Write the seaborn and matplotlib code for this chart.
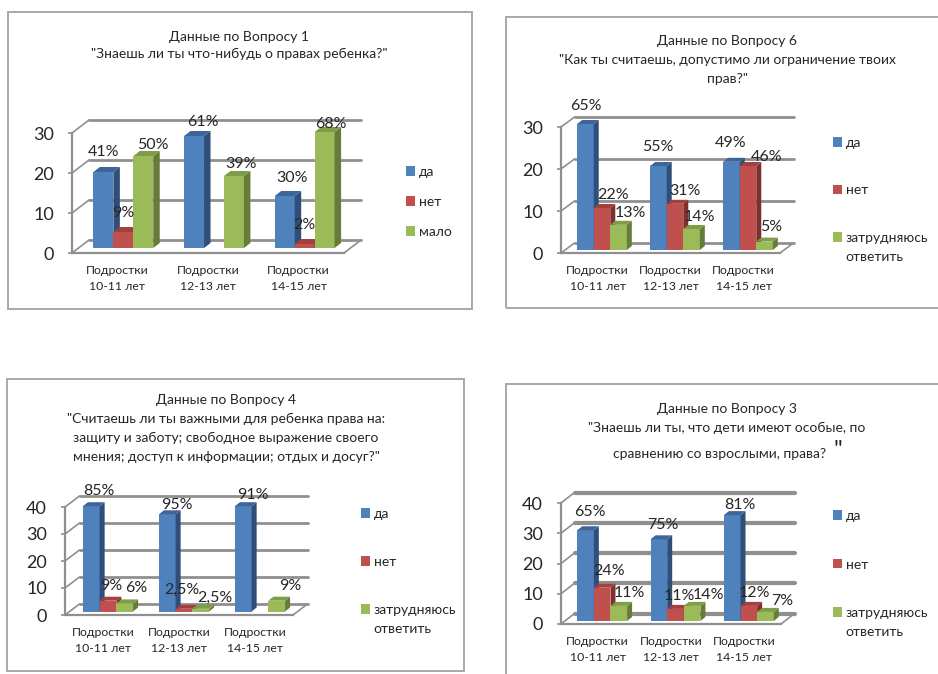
import pandas as pd
import matplotlib.pyplot as plt
import seaborn as sns
from matplotlib.patches import Polygon, Rectangle

W, H = 938, 674

# data
ages = ["Подростки\n10-11 лет", "Подростки\n12-13 лет", "Подростки\n14-15 лет"]
short_legend = ["да", "нет", "мало"]
long_legend = ["да", "нет", "затрудняюсь"]
legend_extra = "ответить"

q1_yes = [19, 28, 13]
q1_no = [4, 0, 1]
q1_other = [23, 18, 29]
q1_yes_txt = ["41%", "61%", "30%"]
q1_no_txt = ["9%", "", "2%"]
q1_other_txt = ["50%", "39%", "68%"]

q6_yes = [30, 20, 21]
q6_no = [10, 11, 20]
q6_other = [6, 5, 2]
q6_yes_txt = ["65%", "55%", "49%"]
q6_no_txt = ["22%", "31%", "46%"]
q6_other_txt = ["13%", "14%", "5%"]

q4_yes = [39, 36, 39]
q4_no = [4, 1, 0]
q4_other = [3, 1, 4]
q4_yes_txt = ["85%", "95%", "91%"]
q4_no_txt = ["9%", "2,5%", ""]
q4_other_txt = ["6%", "2,5%", "9%"]

q3_yes = [30, 27, 35]
q3_no = [11, 4, 5]
q3_other = [5, 5, 3]
q3_yes_txt = ["65%", "75%", "81%"]
q3_no_txt = ["24%", "11%", "12%"]
q3_other_txt = ["11%", "14%", "7%"]

q1_title = ["Данные по Вопросу 1", "\"Знаешь ли ты что-нибудь о правах ребенка?\""]
q6_title = ["Данные по Вопросу 6", "\"Как ты считаешь, допустимо ли ограничение твоих", "прав?\""]
q4_title = ["Данные по Вопросу 4", "\"Считаешь ли ты важными для ребенка права на:",
            "защиту и заботу; свободное выражение своего",
            "мнения; доступ к информации; отдых и досуг?\""]
q3_title = ["Данные по Вопросу 3", "\"Знаешь ли ты, что дети имеют особые, по"]
q3_title_last = "сравнению со взрослыми, права?"

# colours: front, side, top
faces = ["#4f81bd", "#c0504d", "#9bbb59"]
sides = ["#2f4f7a", "#7f2f2d", "#677c3a"]
tops = ["#3d659a", "#a33f3c", "#7f9c46"]
GREY = "#8f8f8f"
TXT = "#262626"

sns.set_theme(style="white")
plt.rcParams["font.family"] = ["Lato", "Open Sans", "DejaVu Sans"]

fig = plt.figure(figsize=(W / 100, H / 100), dpi=100, facecolor="white")


def fx(x):
    return x / W


def fy(y):
    return 1 - y / H


def panel(values, texts, legend_names, title, ymax, step, frame, box, depth, bar_depth,
          lift, shift, width, title_x, title_y, legend_xy, legend_sp, offsets, grid_lw):
    x0, y0, x1, y1 = frame
    fig.add_artist(Rectangle((fx(x0), fy(y1)), (x1 - x0) / W, (y1 - y0) / H, transform=fig.transFigure,
                             fill=False, ec="#a8a8a8", lw=1.4))
    for line, ty in zip(title, title_y):
        fig.text(fx(title_x), fy(ty), line, ha="center", va="center", fontsize=10, color=TXT)

    left, top, right, bottom = box
    ax = fig.add_axes([fx(left), fy(bottom), (right - left) / W, (bottom - top) / H])
    ax.patch.set_alpha(0)

    df = pd.DataFrame({
        "age": ages * 3,
        "answer": [n for n in legend_names for _ in ages],
        "value": [v for s in values for v in s],
    })
    sns.barplot(data=df, x="age", y="value", hue="answer", hue_order=legend_names, palette=faces,
                width=width, gap=0, saturation=1, ax=ax, errorbar=None, linewidth=0)

    ax.set_xlim(-0.5, 2.5)
    ax.set_ylim(0, ymax)
    px_x = 3 / (right - left)
    px_y = ymax / (bottom - top)
    ddx, ddy = depth[0] * px_x, depth[1] * px_y
    bdx, bdy = bar_depth[0] * px_x, bar_depth[1] * px_y

    # walls and floor
    ticks = list(range(0, ymax + 1, step))
    line_kw = dict(color=GREY, clip_on=False, zorder=1, solid_capstyle="round")
    for t in ticks:
        ax.plot([-0.5 + ddx, 2.5 + ddx], [t + ddy, t + ddy], lw=grid_lw, **line_kw)
        ax.plot([-0.5, -0.5 + ddx], [t, t + ddy], lw=1.2, **line_kw)
    ax.plot([2.5, 2.5 + ddx], [0, ddy], lw=1.2, **line_kw)

    for i, cont in enumerate(ax.containers):
        for j, bar in enumerate(cont):
            h = bar.get_height()
            bar.set_x(bar.get_x() + shift * px_x)
            bar.set_y(lift * px_y)
            bar.set_zorder(3 + i)
            bar.set_clip_on(False)
            xa = bar.get_x()
            xb = xa + bar.get_width()
            ya = bar.get_y()
            yb = ya + h
            if h > 0:
                ax.add_patch(Polygon([(xb, ya), (xb + bdx, ya + bdy), (xb + bdx, yb + bdy), (xb, yb)],
                                     fc=sides[i], ec="none", zorder=3 + i, clip_on=False))
                ax.add_patch(Polygon([(xa, yb), (xb, yb), (xb + bdx, yb + bdy), (xa + bdx, yb + bdy)],
                                     fc=tops[i], ec="none", zorder=3 + i, clip_on=False))
            if texts[i][j]:
                ox, oy = offsets[i][j]
                ax.annotate(texts[i][j], ((xa + xb) / 2, yb), xytext=(ox * 0.72, oy * 0.72),
                            textcoords="offset points", ha="center", va="center",
                            fontsize=11.5, color=TXT, zorder=20, annotation_clip=False)

    ax.set_xlabel("")
    ax.set_ylabel("")
    ax.set_yticks(ticks)
    ax.tick_params(axis="y", length=3, color=GREY, width=1.2, pad=10, labelsize=13, labelcolor=TXT, left=True)
    ax.tick_params(axis="x", length=0, pad=8.5, labelsize=8.8, labelcolor=TXT)
    for lab in ax.get_xticklabels():
        lab.set_linespacing(1.6)
    sns.despine(ax=ax, top=True, right=True)
    for sp in ["left", "bottom"]:
        ax.spines[sp].set_color(GREY)
        ax.spines[sp].set_linewidth(1.6)

    sns.move_legend(ax, loc="upper left", bbox_to_anchor=(fx(legend_xy[0]), fy(legend_xy[1])),
                    bbox_transform=fig.transFigure, title=None, frameon=False, fontsize=10,
                    labelspacing=legend_sp, handlelength=0.68, handleheight=0.68, handletextpad=0.25,
                    borderpad=0, borderaxespad=0, labelcolor=TXT)
    return ax


panel([q1_yes, q1_no, q1_other], [q1_yes_txt, q1_no_txt, q1_other_txt], short_legend, q1_title, 30, 10,
      frame=(8, 12, 472, 309), box=(72, 133, 344, 253), depth=(17, 13), bar_depth=(6.5, 5), lift=5, shift=6,
      width=0.66, title_x=239, title_y=[37, 54], legend_xy=(406, 166), legend_sp=1.3,
      offsets=[[(0, 20), (9, 14), (7, 18)], [(0, 19), (0, 0), (0, 19)], [(10, 11), (7, 12), (6, 8)]], grid_lw=2)

panel([q6_yes, q6_no, q6_other], [q6_yes_txt, q6_no_txt, q6_other_txt], long_legend, q6_title, 30, 10,
      frame=(506, 17, 950, 308), box=(561, 127, 780, 253), depth=(13.5, 10), bar_depth=(5, 4), lift=3, shift=4.5,
      width=0.68, title_x=727, title_y=[41, 60, 79], legend_xy=(833, 137), legend_sp=2.55,
      offsets=[[(0, 18), (-1, 19), (-1, 19)], [(11, 13), (10, 13), (19, 9)], [(12, 12), (8, 12), (7, 15)]], grid_lw=2)

panel([q4_yes, q4_no, q4_other], [q4_yes_txt, q4_no_txt, q4_other_txt], long_legend, q4_title, 40, 10,
      frame=(7, 379, 464, 671), box=(65, 507, 293, 615), depth=(14.5, 11), bar_depth=(5, 4), lift=3.5, shift=5,
      width=0.66, title_x=226, title_y=[400, 419, 438, 457], legend_xy=(361, 508), legend_sp=2.59,
      offsets=[[(8, 15), (10, 9), (10, 11)], [(3, 15), (-2, 19), (0, 0)], [(12, 15), (14, 11), (14, 15)]], grid_lw=2)

panel([q3_yes, q3_no, q3_other], [q3_yes_txt, q3_no_txt, q3_other_txt], long_legend, q3_title, 40, 10,
      frame=(506, 384, 950, 690), box=(561, 503, 781, 624), depth=(13.5, 10.5), bar_depth=(5, 4), lift=3, shift=4.5,
      width=0.68, title_x=727, title_y=[409, 428], legend_xy=(833, 510), legend_sp=2.63,
      offsets=[[(4, 18), (4, 14), (8, 10)], [(7, 17), (4, 13), (6, 13)], [(11, 13), (16, 11), (17, 11)]], grid_lw=3)

# second line of the long legend entry
for lx, ly in [(845, 257), (373, 629), (845, 632)]:
    fig.text(fx(lx), fy(ly), legend_extra, ha="left", va="center", fontsize=10, color=TXT)

# last title line of question 3 and its stray oversized quote
fig.text(fx(720), fy(454), q3_title_last, ha="center", va="center", fontsize=10, color=TXT)
fig.text(fx(838), fy(451), "\"", ha="center", va="center", fontsize=17, color=TXT)

fig.savefig("out.png", dpi=100)
